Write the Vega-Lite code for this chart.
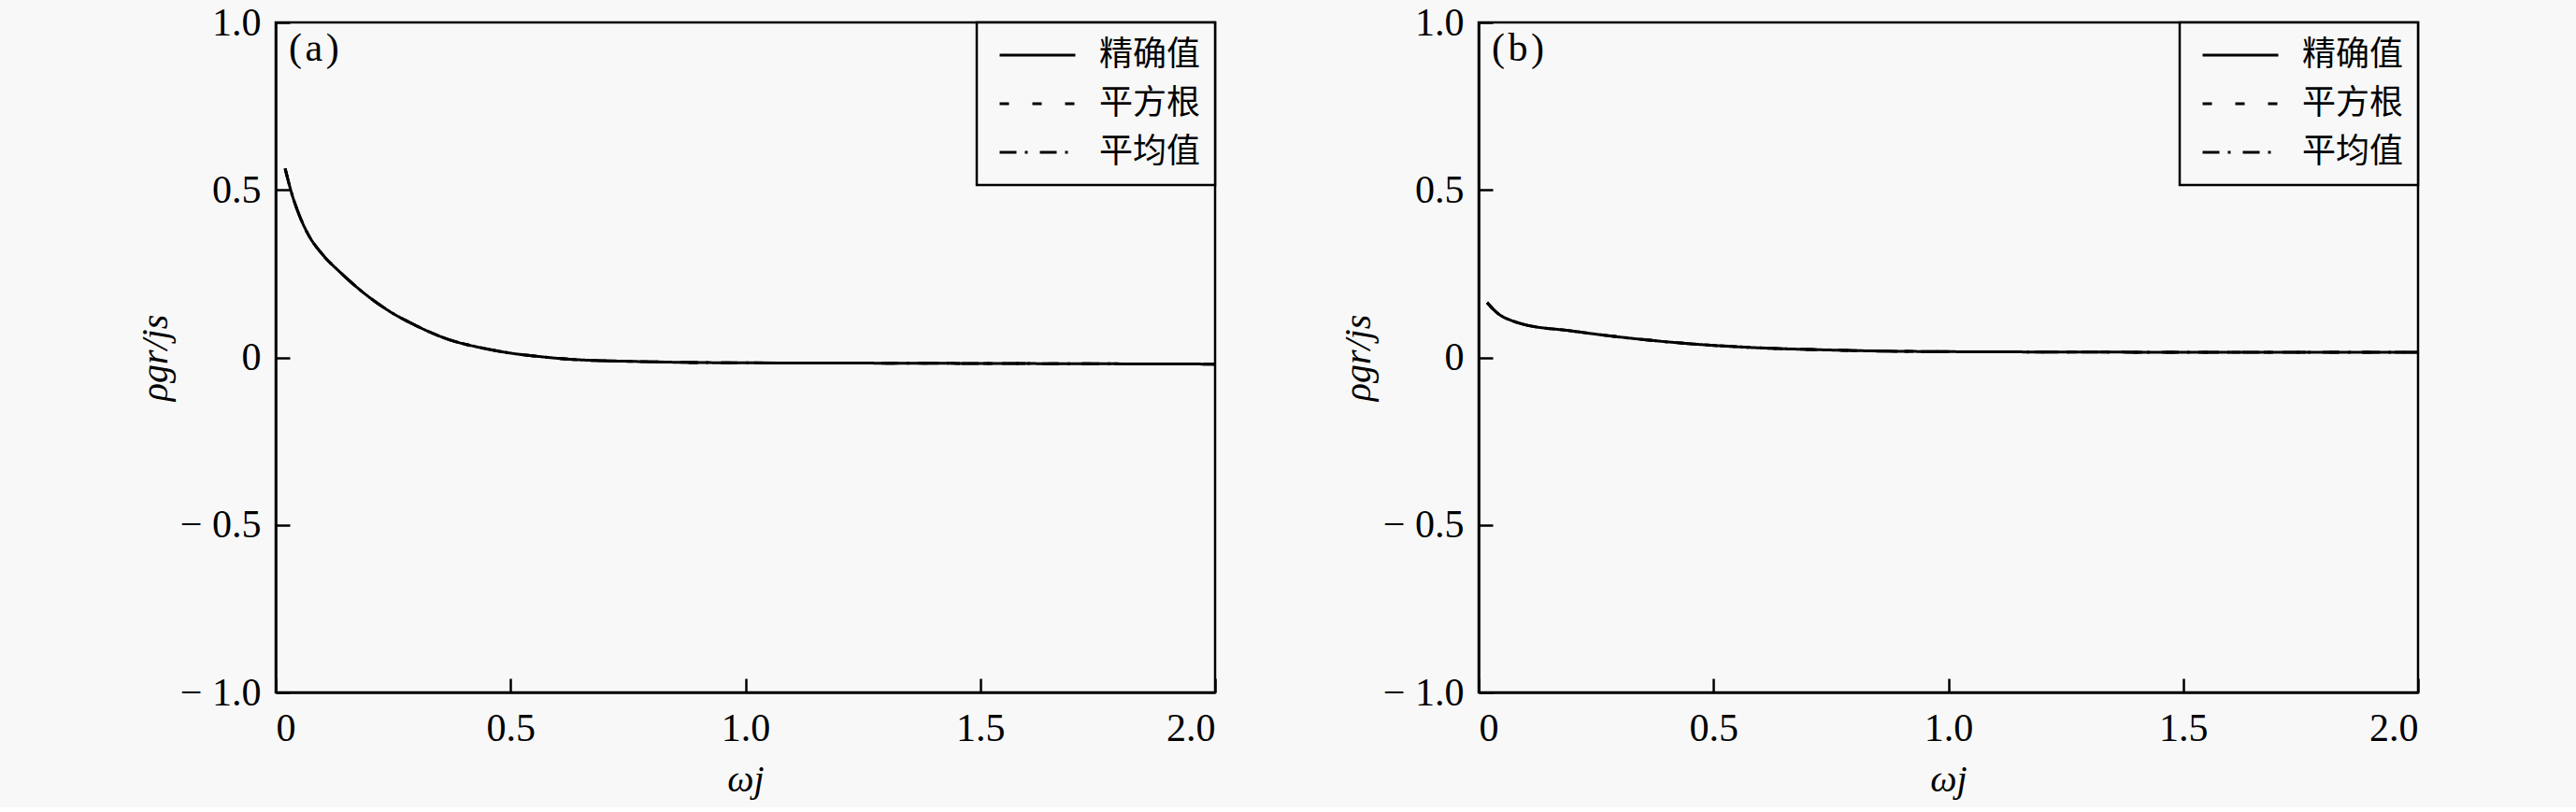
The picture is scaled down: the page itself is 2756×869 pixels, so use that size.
{
  "$schema": "https://vega.github.io/schema/vega-lite/v6.json",
  "background": "#f8f8f8",
  "padding": {"left": 145, "top": 1, "right": 166, "bottom": 8},
  "datasets": {
    "a": [
      {"w": 0.02, "rho": 0.564, "method": "精确值"}, {"w": 0.035, "rho": 0.485, "method": "精确值"}, {"w": 0.05, "rho": 0.425, "method": "精确值"}, {"w": 0.068, "rho": 0.37, "method": "精确值"}, {"w": 0.101, "rho": 0.305, "method": "精确值"}, {"w": 0.135, "rho": 0.257, "method": "精确值"}, {"w": 0.168, "rho": 0.215, "method": "精确值"}, {"w": 0.234, "rho": 0.145, "method": "精确值"}, {"w": 0.3, "rho": 0.094, "method": "精确值"}, {"w": 0.367, "rho": 0.054, "method": "精确值"}, {"w": 0.433, "rho": 0.03, "method": "精确值"}, {"w": 0.499, "rho": 0.013, "method": "精确值"}, {"w": 0.565, "rho": 0.002, "method": "精确值"}, {"w": 0.632, "rho": -0.006, "method": "精确值"}, {"w": 0.764, "rho": -0.012, "method": "精确值"}, {"w": 0.963, "rho": -0.016, "method": "精确值"}, {"w": 1.25, "rho": -0.017, "method": "精确值"}, {"w": 1.5, "rho": -0.018, "method": "精确值"}, {"w": 1.75, "rho": -0.019, "method": "精确值"}, {"w": 2.0, "rho": -0.02, "method": "精确值"},
      {"w": 0.02, "rho": 0.564, "method": "平方根"}, {"w": 0.035, "rho": 0.485, "method": "平方根"}, {"w": 0.05, "rho": 0.425, "method": "平方根"}, {"w": 0.068, "rho": 0.37, "method": "平方根"}, {"w": 0.101, "rho": 0.305, "method": "平方根"}, {"w": 0.135, "rho": 0.257, "method": "平方根"}, {"w": 0.168, "rho": 0.215, "method": "平方根"}, {"w": 0.234, "rho": 0.145, "method": "平方根"}, {"w": 0.3, "rho": 0.094, "method": "平方根"}, {"w": 0.367, "rho": 0.054, "method": "平方根"}, {"w": 0.433, "rho": 0.03, "method": "平方根"}, {"w": 0.499, "rho": 0.013, "method": "平方根"}, {"w": 0.565, "rho": 0.002, "method": "平方根"}, {"w": 0.632, "rho": -0.006, "method": "平方根"}, {"w": 0.764, "rho": -0.012, "method": "平方根"}, {"w": 0.963, "rho": -0.016, "method": "平方根"}, {"w": 1.25, "rho": -0.017, "method": "平方根"}, {"w": 1.5, "rho": -0.018, "method": "平方根"}, {"w": 1.75, "rho": -0.019, "method": "平方根"}, {"w": 2.0, "rho": -0.02, "method": "平方根"},
      {"w": 0.02, "rho": 0.564, "method": "平均值"}, {"w": 0.035, "rho": 0.485, "method": "平均值"}, {"w": 0.05, "rho": 0.425, "method": "平均值"}, {"w": 0.068, "rho": 0.37, "method": "平均值"}, {"w": 0.101, "rho": 0.305, "method": "平均值"}, {"w": 0.135, "rho": 0.257, "method": "平均值"}, {"w": 0.168, "rho": 0.215, "method": "平均值"}, {"w": 0.234, "rho": 0.145, "method": "平均值"}, {"w": 0.3, "rho": 0.094, "method": "平均值"}, {"w": 0.367, "rho": 0.054, "method": "平均值"}, {"w": 0.433, "rho": 0.03, "method": "平均值"}, {"w": 0.499, "rho": 0.013, "method": "平均值"}, {"w": 0.565, "rho": 0.002, "method": "平均值"}, {"w": 0.632, "rho": -0.006, "method": "平均值"}, {"w": 0.764, "rho": -0.012, "method": "平均值"}, {"w": 0.963, "rho": -0.016, "method": "平均值"}, {"w": 1.25, "rho": -0.017, "method": "平均值"}, {"w": 1.5, "rho": -0.018, "method": "平均值"}, {"w": 1.75, "rho": -0.019, "method": "平均值"}, {"w": 2.0, "rho": -0.02, "method": "平均值"}
    ],
    "b": [
      {"w": 0.018, "rho": 0.164, "method": "精确值"}, {"w": 0.03, "rho": 0.145, "method": "精确值"}, {"w": 0.046, "rho": 0.126, "method": "精确值"}, {"w": 0.07, "rho": 0.11, "method": "精确值"}, {"w": 0.092, "rho": 0.1, "method": "精确值"}, {"w": 0.192, "rho": 0.08, "method": "精确值"}, {"w": 0.325, "rho": 0.057, "method": "精确值"}, {"w": 0.457, "rho": 0.04, "method": "精确值"}, {"w": 0.59, "rho": 0.029, "method": "精确值"}, {"w": 0.722, "rho": 0.023, "method": "精确值"}, {"w": 0.855, "rho": 0.019, "method": "精确值"}, {"w": 1.027, "rho": 0.017, "method": "精确值"}, {"w": 1.3, "rho": 0.016, "method": "精确值"}, {"w": 1.6, "rho": 0.015, "method": "精确值"}, {"w": 2.0, "rho": 0.015, "method": "精确值"},
      {"w": 0.018, "rho": 0.164, "method": "平方根"}, {"w": 0.03, "rho": 0.145, "method": "平方根"}, {"w": 0.046, "rho": 0.126, "method": "平方根"}, {"w": 0.07, "rho": 0.11, "method": "平方根"}, {"w": 0.092, "rho": 0.1, "method": "平方根"}, {"w": 0.192, "rho": 0.08, "method": "平方根"}, {"w": 0.325, "rho": 0.057, "method": "平方根"}, {"w": 0.457, "rho": 0.04, "method": "平方根"}, {"w": 0.59, "rho": 0.029, "method": "平方根"}, {"w": 0.722, "rho": 0.023, "method": "平方根"}, {"w": 0.855, "rho": 0.019, "method": "平方根"}, {"w": 1.027, "rho": 0.017, "method": "平方根"}, {"w": 1.3, "rho": 0.016, "method": "平方根"}, {"w": 1.6, "rho": 0.015, "method": "平方根"}, {"w": 2.0, "rho": 0.015, "method": "平方根"},
      {"w": 0.018, "rho": 0.164, "method": "平均值"}, {"w": 0.03, "rho": 0.145, "method": "平均值"}, {"w": 0.046, "rho": 0.126, "method": "平均值"}, {"w": 0.07, "rho": 0.11, "method": "平均值"}, {"w": 0.092, "rho": 0.1, "method": "平均值"}, {"w": 0.192, "rho": 0.08, "method": "平均值"}, {"w": 0.325, "rho": 0.057, "method": "平均值"}, {"w": 0.457, "rho": 0.04, "method": "平均值"}, {"w": 0.59, "rho": 0.029, "method": "平均值"}, {"w": 0.722, "rho": 0.023, "method": "平均值"}, {"w": 0.855, "rho": 0.019, "method": "平均值"}, {"w": 1.027, "rho": 0.017, "method": "平均值"}, {"w": 1.3, "rho": 0.016, "method": "平均值"}, {"w": 1.6, "rho": 0.015, "method": "平均值"}, {"w": 2.0, "rho": 0.015, "method": "平均值"}
    ]
  },
  "bounds": "flush",
  "spacing": 282,
  "resolve": {"legend": {"strokeDash": "independent"}, "scale": {"strokeDash": "independent"}},
  "hconcat": [
    {
      "width": 1005, "height": 717,
      "data": {"name": "a"},
      "title": {"text": "(\u200aa\u200a)", "anchor": "start", "frame": "group", "offset": -71, "dx": 14, "fontSize": 42, "font": "Liberation Serif", "fontWeight": "normal", "color": "black"},
      "mark": {"type": "line", "color": "black", "strokeWidth": 3, "interpolate": "monotone", "clip": true},
      "encoding": {
        "x": {"field": "w", "type": "quantitative", "scale": {"domain": [0, 2], "nice": false}, "axis": {"values": [0, 0.5, 1, 1.5, 2], "labelFont": "Liberation Serif", "labelExpr": "datum.value == 0 ? '0' : format(datum.value, '.1f')", "title": "ωj"}},
        "y": {"field": "rho", "type": "quantitative", "scale": {"domain": [-1, 1], "nice": false}, "axis": {"values": [-1, -0.5, 0, 0.5, 1], "labelFont": "Liberation Serif", "labelExpr": "datum.value == 0 ? '0' : (datum.value < 0 ? '− ' : '') + format(abs(datum.value), '.1f')", "title": "ρgr/js"}},
        "strokeDash": {"field": "method", "type": "nominal", "scale": {"domain": ["精确值", "平方根", "平均值"], "range": [[1, 0], [10, 25], [18, 9, 3, 13]]}, "legend": {"title": null, "labelExpr": "datum.label + '\u2002\u2002'"}}
      }
    },
    {
      "width": 1005, "height": 717,
      "data": {"name": "b"},
      "title": {"text": "(\u200ab\u200a)", "anchor": "start", "frame": "group", "offset": -71, "dx": 14, "fontSize": 42, "font": "Liberation Serif", "fontWeight": "normal", "color": "black"},
      "mark": {"type": "line", "color": "black", "strokeWidth": 3, "interpolate": "monotone", "clip": true},
      "encoding": {
        "x": {"field": "w", "type": "quantitative", "scale": {"domain": [0, 2], "nice": false}, "axis": {"values": [0, 0.5, 1, 1.5, 2], "labelFont": "Liberation Serif", "labelExpr": "datum.value == 0 ? '0' : format(datum.value, '.1f')", "title": "ωj"}},
        "y": {"field": "rho", "type": "quantitative", "scale": {"domain": [-1, 1], "nice": false}, "axis": {"values": [-1, -0.5, 0, 0.5, 1], "labelFont": "Liberation Serif", "labelExpr": "datum.value == 0 ? '0' : (datum.value < 0 ? '− ' : '') + format(abs(datum.value), '.1f')", "title": "ρgr/js"}},
        "strokeDash": {"field": "method", "type": "nominal", "scale": {"domain": ["精确值", "平方根", "平均值"], "range": [[1, 0], [10, 25], [18, 9, 3, 13]]}, "legend": {"title": null, "labelExpr": "datum.label + '\u2002\u2002'"}}
      }
    }
  ],
  "config": {
    "font": "Liberation Serif",
    "view": {"stroke": "black", "strokeWidth": 2.5, "fill": "#f8f8f8"},
    "axis": {
      "domainColor": "black", "domainWidth": 2.5, "tickColor": "black", "tickWidth": 2.5, "tickSize": -15,
      "labelFont": "Liberation Serif", "labelFontSize": 42, "labelColor": "black", "grid": false,
      "titleFont": "Liberation Serif", "titleFontStyle": "italic", "titleFontWeight": "normal", "titleColor": "black", "titleFontSize": 40
    },
    "axisX": {"labelPadding": 33, "titlePadding": 14},
    "axisY": {"labelPadding": 31, "titlePadding": 6},
    "legend": {
      "orient": "top-right", "offset": 0, "strokeColor": "black", "strokeWidth": 2.5, "padding": 15, "fillColor": "#f8f8f8",
      "labelFont": "Noto Sans CJK SC", "labelFontSize": 36, "labelColor": "black", "symbolType": "stroke", "symbolSize": 6561,
      "symbolStrokeWidth": 3, "symbolStrokeColor": "black", "symbolOffset": 8, "labelOffset": 24, "rowPadding": 12, "clipHeight": 40
    }
  }
}
